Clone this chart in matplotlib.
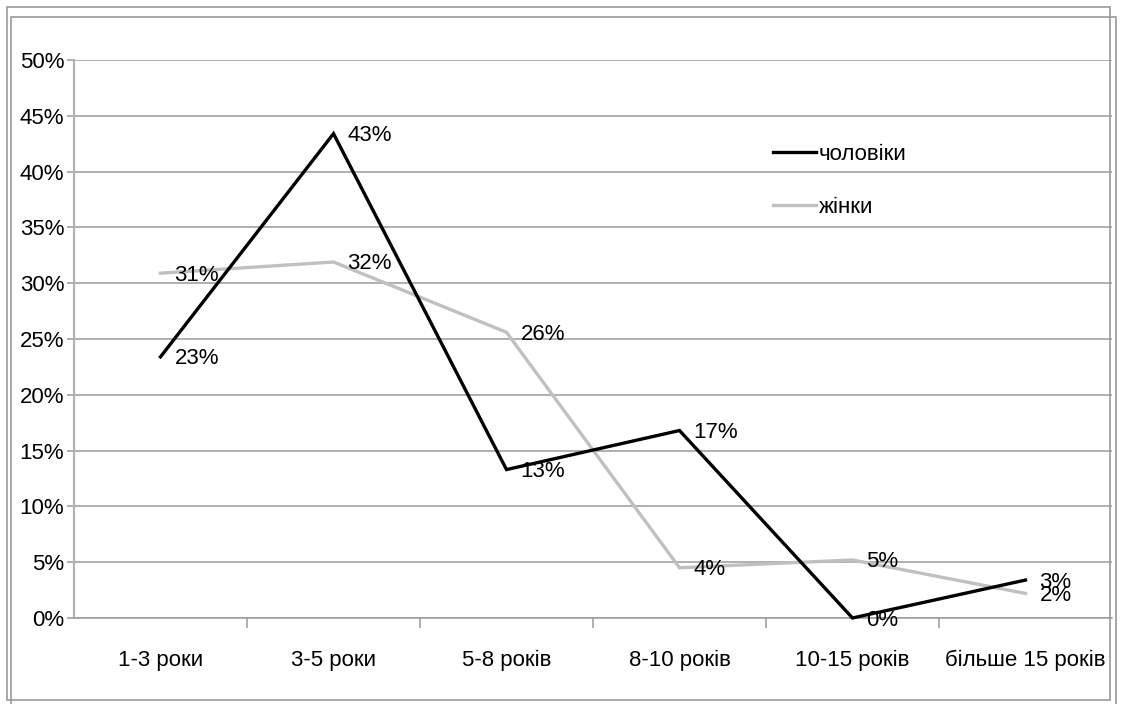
import matplotlib
matplotlib.use("Agg")
import matplotlib.pyplot as plt
from matplotlib.patches import Rectangle
from matplotlib.ticker import FixedLocator, PercentFormatter

categories = ["1-3 роки", "3-5 роки", "5-8 років", "8-10 років", "10-15 років", "більше 15 років"]
men = [23.4, 43.4, 13.3, 16.8, 0.0, 3.4]
women = [30.9, 31.9, 25.6, 4.5, 5.2, 2.2]
men_labels = ["23%", "43%", "13%", "17%", "0%", "3%"]
women_labels = ["31%", "32%", "26%", "4%", "5%", "2%"]
yticks = [0, 5, 10, 15, 20, 25, 30, 35, 40, 45, 50]

FONT = ["Liberation Sans", "DejaVu Sans"]
plt.rcParams["font.family"] = FONT
FS = 16

W, H = 1134, 704
fig = plt.figure(figsize=(W / 100, H / 100), dpi=100)

# outer frames
fig.patches.append(Rectangle((7 / W, 1 - 700 / H), (1110 - 7) / W, (700 - 7) / H,
                             transform=fig.transFigure, fill=False, ec="#9a9a9a", lw=1.2))
fig.patches.append(Rectangle((11 / W, -0.01), (1116 - 11) / W, 1 - 17 / H + 0.01,
                             transform=fig.transFigure, fill=False, ec="#9a9a9a", lw=1.2))

left, right, top, bottom = 74, 1112, 60, 618
ax = fig.add_axes([left / W, 1 - bottom / H, (right - left) / W, (bottom - top) / H])
ax.set_facecolor("none")

x = list(range(len(categories)))
ax.plot(x, women, color="#c0c0c0", lw=2.4, clip_on=False, zorder=3, label="жінки",
        solid_joinstyle="miter")
ax.plot(x, men, color="#000000", lw=2.4, clip_on=False, zorder=4, label="чоловіки",
        solid_joinstyle="miter")

for xi, v, s in zip(x, men, men_labels):
    ax.annotate(s, (xi, v), xytext=(14, -2), textcoords="offset pixels",
                ha="left", va="center", fontsize=FS, zorder=5)
for xi, v, s in zip(x, women, women_labels):
    ax.annotate(s, (xi, v), xytext=(14, -2), textcoords="offset pixels",
                ha="left", va="center", fontsize=FS, zorder=5)

ax.set_xlim(-0.5, len(categories) - 0.5)
ax.set_ylim(0, 50)
ax.set_yticks(yticks)
ax.yaxis.set_major_formatter(PercentFormatter(decimals=0))
ax.grid(axis="y", color="#9a9a9a", lw=1.1)
ax.set_axisbelow(True)

ax.set_xticks(x)
ax.set_xticklabels(categories)
ax.xaxis.set_minor_locator(FixedLocator([i + 0.5 for i in range(len(categories) - 1)]))
ax.tick_params(axis="x", which="major", length=0, pad=23, labelsize=FS)
ax.tick_params(axis="x", which="minor", length=7, color="#9a9a9a", width=1.1, direction="out")
ax.tick_params(axis="y", length=5, color="#9a9a9a", width=1.1, pad=2, labelsize=FS)

for side in ["top", "right"]:
    ax.spines[side].set_visible(False)
ax.spines["left"].set_color("#b0b0b0")
ax.spines["left"].set_linewidth(1.5)
ax.spines["bottom"].set_color("#9a9a9a")
ax.spines["bottom"].set_linewidth(1.1)

handles, labels = ax.get_legend_handles_labels()
leg = ax.legend(handles[::-1], labels[::-1], loc="upper left",
                bbox_to_anchor=((764 - left) / (right - left), (bottom - 135) / (bottom - top)),
                frameon=False, fontsize=FS, handlelength=1.95, handletextpad=0.1,
                labelspacing=1.45, borderaxespad=0)

fig.savefig("out.png", dpi=100)
